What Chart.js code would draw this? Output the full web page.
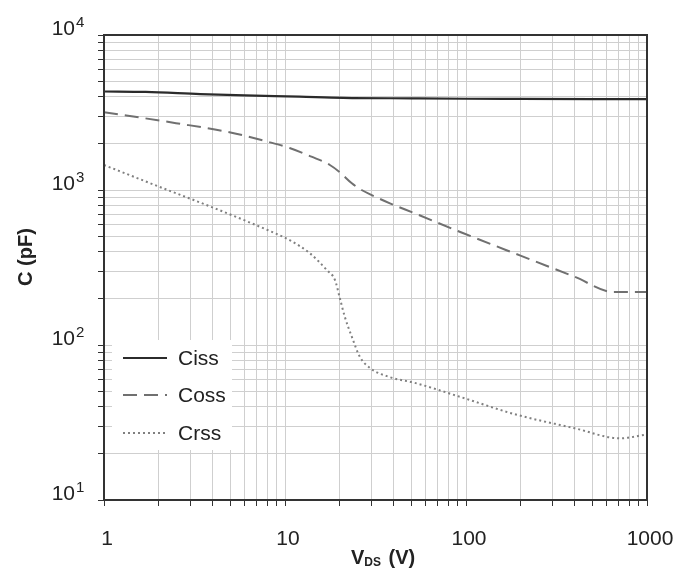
<!DOCTYPE html>
<html>
<head>
<meta charset="utf-8">
<script src="https://cdn.jsdelivr.net/npm/chart.js@4"></script>
<style>
  body { margin: 0; background: #fff; }
  canvas { display: block; }
</style>
</head>
<body>
<canvas id="capChart" width="692" height="572"></canvas>
<script>
// Dados (V_DS em V, C em pF)
const cissX = [1, 1.7, 3.4, 6, 12, 21, 50, 100, 200, 500, 1000];
const cissY = [4320, 4290, 4160, 4080, 4000, 3930, 3900, 3880, 3870, 3862, 3860];

const cossX = [1, 2.5, 5, 8, 10.6, 14, 17.7, 20, 23.4, 26.5, 30, 38, 52, 96, 200, 400, 650, 1000];
const cossY = [3180, 2700, 2350, 2050, 1866, 1640, 1450, 1306, 1104, 1000, 929, 820, 708, 528, 377, 275, 220, 220];

const crssX = [1, 2, 4, 8, 10.6, 13.7, 17, 18.9, 20, 21.4, 23.4, 25.9, 29.5, 38, 52, 100, 182, 400, 710, 1000];
const crssY = [1450, 1054, 770, 552, 475, 391, 305, 262, 205, 152, 113, 84, 71, 62, 57, 45, 36, 29, 25, 26.5];

const xLabels = [1, 10, 100, 1000];
const yExps = [1, 2, 3, 4];

// Gera posições da grade logarítmica (1..9 por década)
function gradeLog(min, max) {
    const vals = [];
    for (let d = min; d < max; d *= 10) {
        for (let k = 1; k < 10; k++) vals.push(d * k);
    }
    vals.push(max);
    return vals.map(v => ({ value: v }));
}

function pontos(xs, ys) {
    return xs.map((x, i) => ({ x: x, y: ys[i] }));
}

// Plugin para moldura, rótulos e legenda
const desenhoExtra = {
    id: 'desenhoExtra',
    afterDraw(chart) {
        const ctx = chart.ctx;
        const area = chart.chartArea;
        const sx = chart.scales.x;
        const sy = chart.scales.y;

        ctx.save();
        // moldura
        ctx.strokeStyle = '#333';
        ctx.lineWidth = 2;
        ctx.strokeRect(area.left, area.top, area.right - area.left, area.bottom - area.top);

        // rótulos do eixo x
        ctx.fillStyle = '#222';
        ctx.font = '21px "Liberation Sans", Arial, sans-serif';
        ctx.textAlign = 'center';
        ctx.textBaseline = 'alphabetic';
        xLabels.forEach(v => {
            ctx.fillText(String(v), sx.getPixelForValue(v) + 3, 545);
        });

        // rótulos do eixo y (10 com expoente)
        yExps.forEach(e => {
            const py = sy.getPixelForValue(Math.pow(10, e));
            ctx.font = '21px "Liberation Sans", Arial, sans-serif';
            ctx.textAlign = 'right';
            ctx.fillText('10', 75, py);
            ctx.font = '15px "Liberation Sans", Arial, sans-serif';
            ctx.textAlign = 'left';
            ctx.fillText(String(e), 76, py - 8);
        });

        // título do eixo y
        ctx.save();
        ctx.translate(32, 257);
        ctx.rotate(-Math.PI / 2);
        ctx.font = 'bold 20px "Liberation Sans", Arial, sans-serif';
        ctx.textAlign = 'center';
        ctx.fillStyle = '#222';
        ctx.fillText('C (pF)', 0, 0);
        ctx.restore();

        // título do eixo x: V_DS (V)
        ctx.font = 'bold 20px "Liberation Sans", Arial, sans-serif';
        ctx.textAlign = 'left';
        let x0 = 351;
        ctx.fillText('V', x0, 564);
        x0 += ctx.measureText('V').width;
        ctx.font = 'bold 12px "Liberation Sans", Arial, sans-serif';
        ctx.fillText('DS', x0, 566);
        x0 += ctx.measureText('DS').width + 2;
        ctx.font = 'bold 20px "Liberation Sans", Arial, sans-serif';
        ctx.fillText(' (V)', x0, 564);

        // legenda
        ctx.fillStyle = '#fff';
        ctx.fillRect(area.left + 8, 340, 120, 110);
        const linhasY = [358, 395, 433];
        chart.data.datasets.forEach((ds, i) => {
            const ly = linhasY[i];
            ctx.beginPath();
            ctx.setLineDash(ds.borderDash || []);
            ctx.strokeStyle = ds.borderColor;
            ctx.lineWidth = ds.borderWidth;
            ctx.moveTo(area.left + 19, ly);
            ctx.lineTo(area.left + 63, ly);
            ctx.stroke();
            ctx.setLineDash([]);
            ctx.fillStyle = '#222';
            ctx.font = '21px "Liberation Sans", Arial, sans-serif';
            ctx.textAlign = 'left';
            ctx.textBaseline = 'middle';
            ctx.fillText(ds.label, area.left + 74, ly + 1);
        });
        ctx.restore();
    }
};

const ctx = document.getElementById('capChart').getContext('2d');
const capChart = new Chart(ctx, {
    type: 'line',
    data: {
        datasets: [
            {
                label: 'Ciss',
                data: pontos(cissX, cissY),
                borderColor: '#2b2b2b',
                borderWidth: 2.2,
                borderDash: []
            },
            {
                label: 'Coss',
                data: pontos(cossX, cossY),
                borderColor: '#707070',
                borderWidth: 2,
                borderDash: [14, 7]
            },
            {
                label: 'Crss',
                data: pontos(crssX, crssY),
                borderColor: '#808080',
                borderWidth: 2,
                borderDash: [2, 3]
            }
        ]
    },
    options: {
        responsive: false,
        animation: false,
        elements: {
            point: { radius: 0 },
            line: { cubicInterpolationMode: 'monotone' }
        },
        layout: {
            padding: { left: 98, right: 45, top: 35, bottom: 66 }
        },
        plugins: {
            legend: { display: false },
            tooltip: { enabled: false }
        },
        scales: {
            x: {
                type: 'logarithmic',
                min: 1,
                max: 1000,
                afterBuildTicks: (axis) => { axis.ticks = gradeLog(1, 1000); },
                ticks: { display: false, autoSkip: false },
                grid: {
                    color: '#cfcfcf',
                    lineWidth: 1,
                    tickLength: 6,
                    tickColor: '#333'
                },
                border: { display: true, color: '#333', width: 2 }
            },
            y: {
                type: 'logarithmic',
                min: 10,
                max: 10000,
                afterBuildTicks: (axis) => { axis.ticks = gradeLog(10, 10000); },
                ticks: { display: false, autoSkip: false },
                grid: {
                    color: '#cfcfcf',
                    lineWidth: 1,
                    tickLength: 6,
                    tickColor: '#333'
                },
                border: { display: true, color: '#333', width: 2 }
            }
        }
    },
    plugins: [desenhoExtra]
});
</script>
</body>
</html>
